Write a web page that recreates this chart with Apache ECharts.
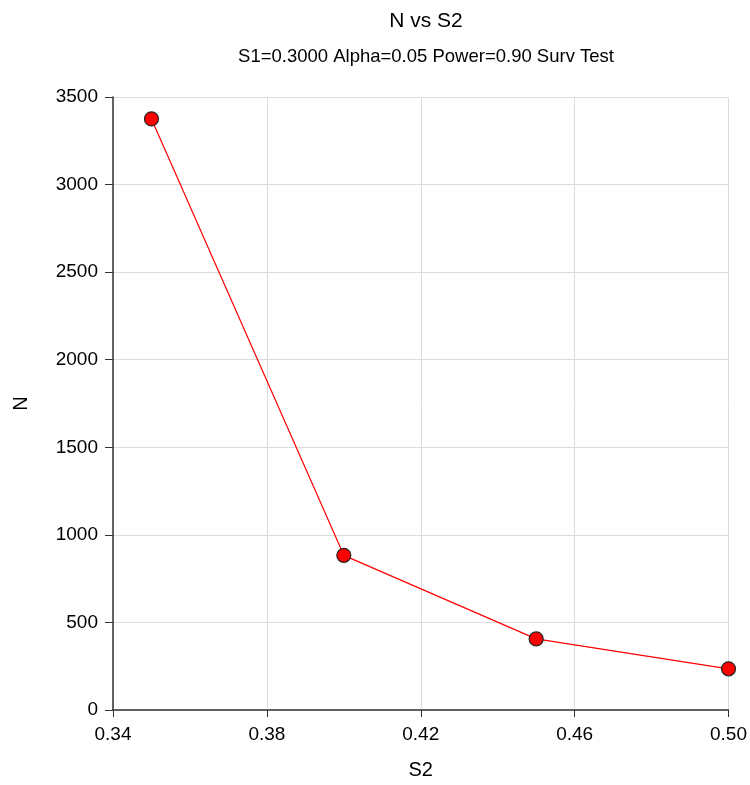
<!DOCTYPE html>
<html><head><meta charset="utf-8">
<script src="https://cdn.jsdelivr.net/npm/echarts@6/dist/echarts.min.js"></script>
<style>html,body{margin:0;padding:0;background:#fff}#c{width:750px;height:785px}</style>
</head><body><div id="c"></div>
<script>
const s2Values = [0.35, 0.40, 0.45, 0.50];
const nValues = [3375, 883, 406, 235];
const xTicks = [0.34, 0.38, 0.42, 0.46, 0.50];
const yTicks = [0, 500, 1000, 1500, 2000, 2500, 3000, 3500];

const chart = echarts.init(document.getElementById('c'), null, {renderer: 'canvas'});
const font = '"Liberation Sans", Arial, sans-serif';
chart.setOption({
  backgroundColor: '#fff',
  animation: false,
  title: [
    {text: 'N vs S2', left: 421, top: 6, textAlign: 'center',
     textStyle: {fontFamily: font, fontSize: 21, fontWeight: 'normal', color: '#000'}},
    {text: 'S1=0.3000 Alpha=0.05 Power=0.90 Surv Test', left: 421, top: 42, textAlign: 'center',
     textStyle: {fontFamily: font, fontSize: 18.5, fontWeight: 'normal', color: '#000'}}
  ],
  grid: {left: 113, right: 21, top: 97, bottom: 71, containLabel: false},
  xAxis: {
    type: 'value', min: xTicks[0], max: xTicks[xTicks.length - 1], interval: 0.04,
    name: 'S2', nameLocation: 'middle', nameGap: 50,
    nameTextStyle: {fontFamily: font, fontSize: 20, color: '#000'},
    axisLine: {show: true, onZero: false, lineStyle: {color: '#333', width: 1.5}},
    axisTick: {show: true, length: 7, lineStyle: {color: '#333'}},
    axisLabel: {fontFamily: font, fontSize: 19, color: '#000', margin: 15,
      formatter: v => v.toFixed(2)},
    splitLine: {show: true, lineStyle: {color: '#dcdcdc'}}
  },
  yAxis: {
    type: 'value', min: yTicks[0], max: yTicks[yTicks.length - 1], interval: 500,
    name: 'N', nameLocation: 'middle', nameGap: 82,
    nameTextStyle: {fontFamily: font, fontSize: 20, color: '#000'},
    axisLine: {show: true, lineStyle: {color: '#333', width: 1.5}},
    axisTick: {show: true, length: 8, lineStyle: {color: '#333'}},
    axisLabel: {fontFamily: font, fontSize: 19, color: '#000', margin: 15,
      formatter: v => String(v)},
    splitLine: {show: true, lineStyle: {color: '#dcdcdc'}}
  },
  series: [{
    type: 'line',
    data: s2Values.map((x, i) => [x, nValues[i]]),
    symbol: 'circle', symbolSize: 14,
    lineStyle: {color: '#ff0000', width: 1.2},
    itemStyle: {color: '#ff0000', borderColor: '#222', borderWidth: 1.2},
    z: 5
  }]
});
</script></body></html>
